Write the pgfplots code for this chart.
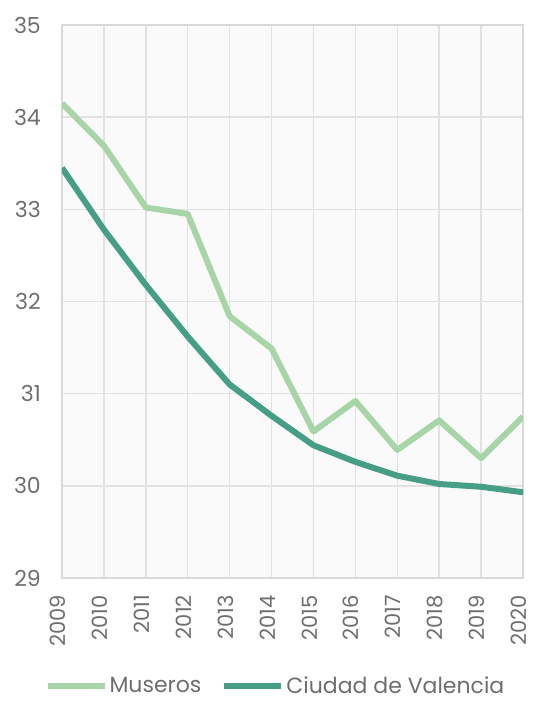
\documentclass[border=0pt]{standalone}
\usepackage{fontspec}
\setmainfont{Poppins}
\usepackage{pgfplots}
\pgfplotsset{compat=1.18}
\definecolor{museros}{HTML}{A8D5A8}
\definecolor{valencia}{HTML}{479E87}
\definecolor{gridc}{HTML}{E2E2E2}
\definecolor{axc}{HTML}{D9D9D9}
\definecolor{txt}{HTML}{6E6E6E}
\definecolor{bgc}{HTML}{FAFAFA}
\begin{document}
\begin{tikzpicture}
\begin{axis}[
  name=ax,
  scale only axis,
  width=461pt, height=553pt,
  xmin=2009, xmax=2020, ymin=29, ymax=35,
  xtick={2009,...,2020},
  ytick={29,30,...,35},
  minor x tick num=1,
  /pgf/number format/assume math mode=true,
  xticklabel style={yshift=-17pt, rotate=90, anchor=east, inner sep=0pt,
    text height=0.72em, text depth=0pt,
    font=\fontsize{21}{21}\selectfont, text=txt},
  yticklabel style={anchor=east, inner sep=0pt, xshift=-21pt, font=\fontsize{22}{22}\selectfont, text=txt},
  xticklabel={\pgfmathprintnumber[1000 sep={},fixed]{\tick}},
  grid=major,
  major grid style={gridc, line width=1.4pt},
  axis line style={axc, line width=1.6pt},
  major tick length=0pt,
  minor tick length=6pt,
  minor tick style={axc, line width=1.4pt},
  xtick pos=bottom,
  ytick pos=left,
  tick align=inside,
  axis background/.style={fill=bgc},
  legend columns=2,
  legend style={at={(0.463,-0.195)}, anchor=center, draw=none, fill=none,
    font=\fontsize{22}{22}\selectfont, text=txt,
    /tikz/every even column/.append style={column sep=18pt}},
  legend image code/.code={\draw[#1] (0pt,0pt) -- (57pt,0pt);},
  legend cell align=left,
]
\addplot[museros, line width=6pt, line join=round] coordinates {
(2009,34.15) (2010,33.69) (2011,33.02) (2012,32.95) (2013,31.84) (2014,31.49)
(2015,30.59) (2016,30.92) (2017,30.39) (2018,30.71) (2019,30.30) (2020,30.75)};
\addlegendentry{Museros}
\addplot[valencia, line width=6pt, line join=round] coordinates {
(2009,33.45) (2010,32.78) (2011,32.18) (2012,31.62) (2013,31.10) (2014,30.76)
(2015,30.44) (2016,30.26) (2017,30.11) (2018,30.02) (2019,29.99) (2020,29.93)};
\addlegendentry{Ciudad de Valencia}
\end{axis}
\path (ax.south west) ++(-62pt,-123pt) rectangle ++(533pt,701pt);
\end{tikzpicture}
\end{document}
